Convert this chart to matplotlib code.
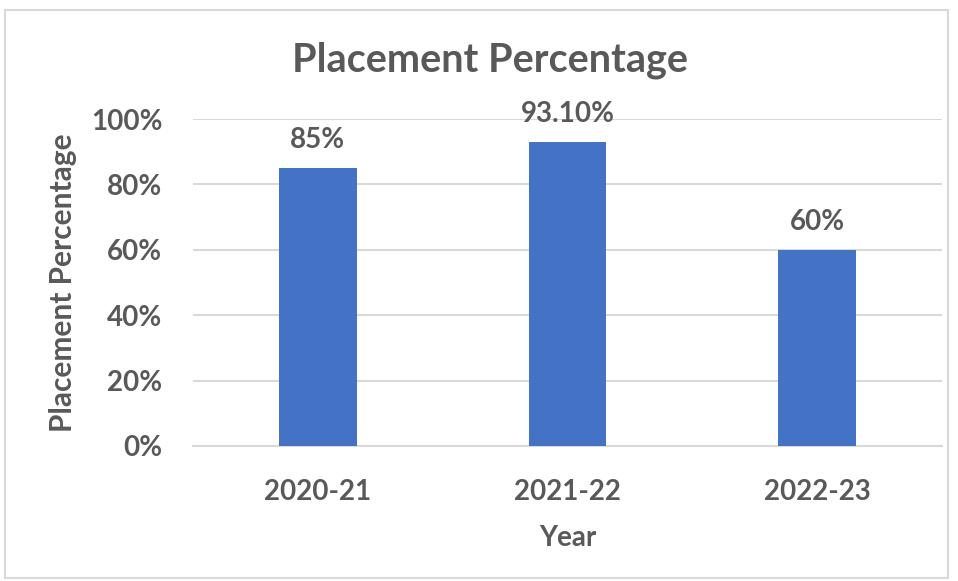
import matplotlib
matplotlib.use("Agg")
import matplotlib.pyplot as plt
from matplotlib.patches import Rectangle
from matplotlib.ticker import PercentFormatter

years = ["2020-21", "2021-22", "2022-23"]
placement = [0.85, 0.931, 0.60]
labels = ["85%", "93.10%", "60%"]
yticks = [0, 0.2, 0.4, 0.6, 0.8, 1.0]

plt.rcParams['font.family'] = ['Lato', 'DejaVu Sans']
txt = '#595959'

fig = plt.figure(figsize=(9.58, 5.81), dpi=100)
fig.patches.append(Rectangle((5/958, 1-578/581), 943/958, 568/581, transform=fig.transFigure,
                             fill=False, edgecolor='#d9d9d9', linewidth=1.5))
ax = fig.add_axes([193/958, 1-446/581, 749/958, 327/581])
x = range(len(years))
ax.bar(x, placement, width=0.31, color='#4472C4', zorder=3)
for xi, v, l in zip(x, placement, labels):
    ax.text(xi, v + 0.045, l, ha='center', va='bottom', fontsize=20, fontweight='bold', color=txt)
ax.set_xlim(-0.5, 2.5)
ax.set_ylim(0, 1.0)
ax.set_yticks(yticks)
ax.yaxis.set_major_formatter(PercentFormatter(1.0, decimals=0))
ax.set_xticks(list(x))
ax.set_xticklabels(years)
ax.grid(axis='y', color='#d9d9d9', linewidth=1.5, zorder=0)
for s in ['top', 'right', 'left']:
    ax.spines[s].set_visible(False)
ax.spines['bottom'].set_color('#d9d9d9')
ax.spines['bottom'].set_linewidth(1.5)
ax.tick_params(axis='both', length=0, labelsize=20, labelcolor=txt)
for t in ax.get_xticklabels() + ax.get_yticklabels():
    t.set_fontweight('bold')
ax.tick_params(axis='x', pad=24)
ax.tick_params(axis='y', pad=22)
ax.set_xlabel('Year', fontsize=20, fontweight='bold', color=txt, labelpad=14)
ax.set_ylabel('Placement Percentage', fontsize=21.5, fontweight='bold', color=txt, labelpad=10)
fig.text(490/958, 1-60/581, 'Placement Percentage', ha='center', va='center',
         fontsize=28.5, fontweight='bold', color=txt)
fig.savefig('out.png', dpi=100)
